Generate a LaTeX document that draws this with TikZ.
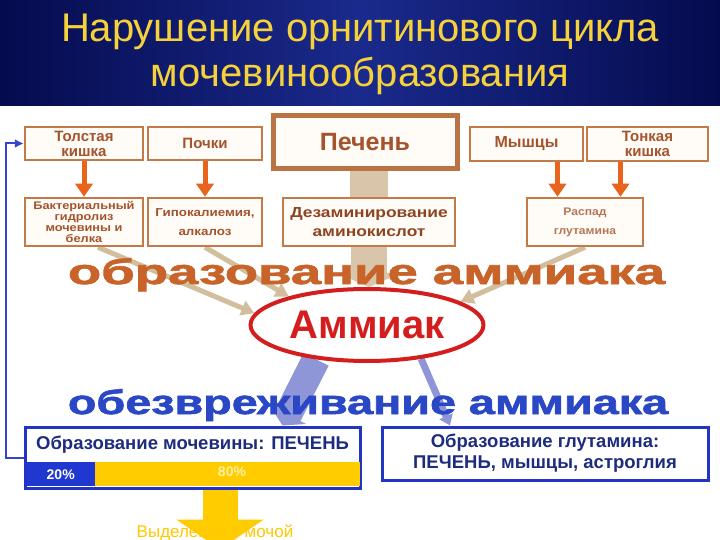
\documentclass[tikz,border=0pt]{standalone}
\usepackage{fontspec}
\setmainfont{Liberation Sans}
\newfontfamily\heavyfont[FakeBold=1.6]{Liberation Sans Bold}
\usetikzlibrary{shapes.geometric,arrows.meta}
\newcommand\wxs[2]{\scalebox{#1}[1]{#2}}
\definecolor{navyA}{HTML}{050B4E}
\definecolor{navyB}{HTML}{1A2A8C}
\definecolor{titleyellow}{HTML}{F6D23A}
\definecolor{boxbrown}{HTML}{C47A48}
\definecolor{boxfill}{HTML}{FFFBF6}
\definecolor{boxtext}{HTML}{A4542C}
\definecolor{darkbrown}{HTML}{8E4420}
\definecolor{orangearrow}{HTML}{E8641C}
\definecolor{tanfill}{HTML}{D9C6AA}
\definecolor{tanline}{HTML}{D2BE9C}
\definecolor{ammred}{HTML}{D41E1E}
\definecolor{bigorange}{HTML}{C8642A}
\definecolor{bigblue}{HTML}{2A48C6}
\definecolor{boxblue}{HTML}{2234C4}
\definecolor{textblue}{HTML}{1E2C7E}
\definecolor{wideblue}{HTML}{8E96D8}
\definecolor{barblue}{HTML}{2038D0}
\definecolor{baryellow}{HTML}{FFCC00}
\definecolor{pale}{HTML}{FFF0A0}
\definecolor{loopblue}{HTML}{3444D0}
\pgfdeclarelayer{ground}
\pgfdeclarelayer{back}
\pgfsetlayers{ground,back,main}
\begin{document}
\begin{tikzpicture}[x=1pt,y=-1pt,
  obox/.style={draw=boxbrown, line width=2.5pt, fill=boxfill, align=center,
    text=boxtext, inner sep=1pt, font=\fontsize{15}{15}\selectfont\bfseries},
  sbox/.style={obox, font=\fontsize{11.5}{11.5}\selectfont\bfseries},
  oarrow/.style={draw=orangearrow, line width=5pt, -{Triangle[length=13pt,width=17pt]}},
  tanarrow/.style={draw=tanline, line width=5pt, -{Triangle[length=13pt,width=15pt]}},
  bbox/.style={draw=boxblue, line width=3pt, fill=white},
  btext/.style={text=textblue, font=\fontsize{18.5}{21}\selectfont\bfseries, align=center}
]
\useasboundingbox (0,0) rectangle (720,540);
\clip (0,0) rectangle (720,540);
\begin{pgfonlayer}{ground}
\fill[white] (0,0) rectangle (720,540);
\shade[left color=navyA, right color=navyA, middle color=navyB] (0,0) rectangle (720,106);
\end{pgfonlayer}

% title
\node[text=titleyellow, align=center, font=\fontsize{40}{45}\selectfont] (title) at (360,54)
  {Нарушение орнитинового цикла\\мочевинообразования};

% top row
\node[obox, minimum width=118pt, minimum height=33pt] (tk) at (84,143.5) {Толстая\\кишка};
\node[obox, minimum width=114pt, minimum height=33pt] (pochki) at (205,143.5) {Почки};
\node[obox, line width=5pt, draw=boxbrown!95!black, minimum width=184pt, minimum height=53pt,
  font=\fontsize{25}{25}\selectfont\bfseries, text=boxtext] (pechen) at (365,142.5) {Печень};
\node[obox, minimum width=113pt, minimum height=34pt, font=\fontsize{16}{16}\selectfont\bfseries] (myshcy) at (526.5,144) {Мышцы};
\node[obox, minimum width=121pt, minimum height=34pt] (tonk) at (647.5,144) {Тонкая\\кишка};

% second row
\node[sbox, minimum width=118pt, minimum height=48pt, font=\fontsize{11}{11}\selectfont\bfseries] (bact) at (84,222)
  {\wxs{1.16}{Бактериальный}\\\wxs{1.16}{гидролиз}\\\wxs{1.16}{мочевины и}\\\wxs{1.16}{белка}};
\node[sbox, minimum width=114pt, minimum height=48pt, font=\fontsize{11.5}{19}\selectfont\bfseries] (hypo) at (205,222)
  {\wxs{1.16}{Гипокалиемия,}\\\wxs{1.16}{алкалоз}};
\node[obox, minimum width=172pt, minimum height=48pt, text=darkbrown,
  font=\fontsize{14.5}{19}\selectfont\bfseries] (dezam) at (369,222) {\wxs{1.2}{Дезаминирование}\\\wxs{1.2}{аминокислот}};
\node[sbox, minimum width=116pt, minimum height=48pt, font=\fontsize{11}{19}\selectfont\bfseries,
  text=boxtext!80] (raspad) at (585,222) {\wxs{1.1}{Распад}\\\wxs{1.1}{глутамина}};

% Ammiak
\node[ellipse, draw=ammred, line width=4pt, fill=white, minimum width=233pt, minimum height=72pt,
  inner sep=0pt, text=ammred, font=\fontsize{40}{40}\selectfont\bfseries] (amm) at (367,325) {Аммиак};

% big labels
\node[anchor=base, inner sep=0pt, text=bigorange] (obr) at (366.5,284)
  {\resizebox{597pt}{26pt}{\heavyfont образование аммиака}};
\node[anchor=base, inner sep=0pt, text=bigblue] (obezv) at (368,414)
  {\resizebox{600pt}{25pt}{\heavyfont обезвреживание аммиака}};

% urea box
\node[bbox, minimum width=335pt, minimum height=61pt, inner sep=0pt] (mbox) at (192.5,457.5) {};
\node[btext, anchor=base] (mtext) at (192.5,449) {Образование мочевины: ПЕЧЕНЬ};
\node[fill=barblue, minimum width=68pt, minimum height=24pt, inner sep=0pt, text=white,
  font=\fontsize{14}{14}\selectfont\bfseries, anchor=north west] (p20) at (26.5,462) {20\%};
\node[fill=baryellow, minimum width=265pt, minimum height=24pt, inner sep=0pt,
  anchor=north west] (p80) at (94.5,462) {};
\node[text=pale, font=\fontsize{14}{14}\selectfont\bfseries] (t80) at (232,472) {80\%};

% glutamine box
\node[bbox, minimum width=326pt, minimum height=53pt, btext] (gbox) at (545,453.5)
  {Образование глутамина:\\ПЕЧЕНЬ, мышцы, астроглия};

% excretion label
\node[text=baryellow!95!orange, font=\fontsize{17}{17}\selectfont, anchor=base] (vyd) at (215,537) {Выделение с мочой};

\begin{pgfonlayer}{back}
% orange arrows
\draw[oarrow] (tk.south) -- (tk.south |- bact.north);
\draw[oarrow] (pochki.south) -- (pochki.south |- hypo.north);
\coordinate (m1) at ([xshift=31pt]myshcy.south);
\coordinate (t1) at ([xshift=-27pt]tonk.south);
\draw[oarrow] (m1) -- (m1 |- raspad.north);
\draw[oarrow] (t1) -- (t1 |- raspad.north);
% tan bar and big tan arrow
\coordinate (d1) at ([xshift=-19pt]dezam.north);
\coordinate (d2) at ([xshift=19pt]dezam.north);
\fill[tanfill] (d1) rectangle (d2 |- pechen.south);
\draw[draw=tanfill, line width=36pt, -{Triangle[length=14pt,width=64pt]}] (dezam.south) -- (dezam.south |- amm.north);
% thin tan arrows
\draw[tanarrow] ([xshift=14pt]bact.south) -- (amm.174);
\draw[tanarrow] (hypo.south) -- (amm.160);
\draw[tanarrow] (raspad.south) -- (amm.14);
% blue arrows
\coordinate (bt) at ([xshift=90pt]mbox.north);
\draw[draw=wideblue, line width=28pt, -{Triangle[length=12pt,width=40pt]}] (amm.214) -- (bt);
\coordinate (gt) at ([xshift=-95pt]gbox.north);
\draw[draw=wideblue, line width=7pt, -{Triangle[length=10pt,width=14pt]}] (amm.-32) -- (gt);
% yellow arrow
\coordinate (ys) at ([xshift=27.5pt]mbox.south);
\draw[draw=baryellow, line width=35pt, -{Triangle[length=30pt,width=86pt]}] (ys) -- ([yshift=-60pt]ys);
% blue loop
\draw[draw=loopblue, line width=2pt, -{Latex[length=9pt,width=9pt]}] (mbox.west) -- ++(-18,0) |- (tk.west);
\end{pgfonlayer}
\end{tikzpicture}
\end{document}
